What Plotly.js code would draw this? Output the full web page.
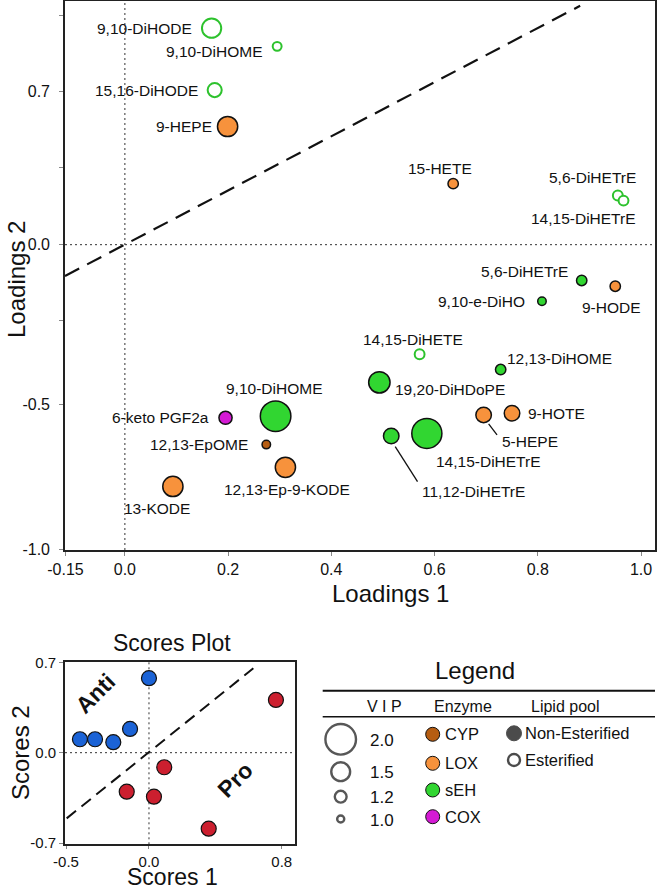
<!DOCTYPE html>
<html><head><meta charset="utf-8">
<script src="https://cdn.plot.ly/plotly-3.0.1.min.js"></script>
<style>html,body{margin:0;padding:0;background:#fff;} #chart{width:659px;height:887px;}</style>
</head><body><div id="chart"></div>
<script>
// ---------------- Loadings plot data ----------------
const lipidNames = ['9,10-DiHODE','9,10-DiHOME','15,16-DiHODE','9-HEPE','15-HETE','5,6-DiHETrE','14,15-DiHETrE',
  '5,6-DiHETrE','9-HODE','9,10-e-DiHO','14,15-DiHETE','12,13-DiHOME','19,20-DiHDoPE','5-HEPE','9-HOTE',
  '14,15-DiHETrE','11,12-DiHETrE','9,10-DiHOME','6-keto PGF2a','12,13-EpOME','12,13-Ep-9-KODE','13-KODE'];
const loadings1 = [0.168, 0.295, 0.174, 0.199, 0.636, 0.955, 0.966,
  0.885, 0.950, 0.808, 0.571, 0.728, 0.493, 0.695, 0.750,
  0.585, 0.516, 0.292, 0.195, 0.274, 0.311, 0.093];
const loadings2 = [0.678, 0.621, 0.484, 0.370, 0.191, 0.154, 0.138,
  -0.112, -0.130, -0.177, -0.343, -0.391, -0.431, -0.533, -0.528,
  -0.591, -0.599, -0.537, -0.542, -0.626, -0.697, -0.757];
const vipScores = [1.50, 1.06, 1.28, 1.52, 1.10, 1.10, 1.10,
  1.10, 1.10, 1.02, 1.10, 1.10, 1.57, 1.32, 1.32,
  1.94, 1.32, 1.96, 1.22, 1.02, 1.52, 1.52];
const enzymeClass = ['sEH','sEH','sEH','LOX','LOX','sEH','sEH',
  'sEH','LOX','sEH','sEH','sEH','sEH','LOX','LOX',
  'sEH','sEH','sEH','COX','CYP','LOX','LOX'];
const lipidPool = ['Esterified','Esterified','Esterified','Non-Esterified','Non-Esterified','Esterified','Esterified',
  'Non-Esterified','Non-Esterified','Non-Esterified','Esterified','Non-Esterified','Non-Esterified','Non-Esterified','Non-Esterified',
  'Non-Esterified','Non-Esterified','Non-Esterified','Non-Esterified','Non-Esterified','Non-Esterified','Non-Esterified'];

// ---------------- Scores plot data ----------------
const antiScores1 = [0.000, -0.114, -0.215, -0.325, -0.416];
const antiScores2 = [0.577, 0.184, 0.081, 0.104, 0.104];
const proScores1 = [0.765, 0.092, -0.134, 0.030, 0.360];
const proScores2 = [0.409, -0.113, -0.302, -0.341, -0.589];

// ---------------- Tick labels ----------------
const loadXTickVals = [-0.115, 0, 0.2, 0.4, 0.6, 0.8, 1.0];
const loadXTickText = ['-0.15', '0.0', '0.2', '0.4', '0.6', '0.8', '1.0'];
const loadYTickVals = [0.717, 0.479, 0.241, 0, -0.236, -0.5, -0.955];
const loadYTickText = ['', '0.7', '', '0.0', '', '-0.5', '-1.0'];
const scoreXTickVals = [-0.5, 0, 0.8];
const scoreXTickText = ['-0.5', '0.0', '0.8'];
const scoreYTickVals = [-0.7, 0, 0.7];
const scoreYTickText = ['-0.7', '0.0', '0.7'];

// ---------------- Legend content ----------------
const vipLegend = [2.0, 1.5, 1.2, 1.0];
const enzymeNames = ['CYP', 'LOX', 'sEH', 'COX'];
const poolNames = ['Non-Esterified', 'Esterified'];

// ---------------- Styles / layout helpers ----------------
const FONT = '"Liberation Sans", Arial, Helvetica, sans-serif';
const TXT = '#111111';
const enzymeColors = {CYP: '#b65d12', LOX: '#f7923c', sEH: '#31d631', COX: '#d41ad4'};
const esterOutline = '#2dc22d';
const antiColor = '#1b63d6';
const proColor = '#cc1f2f';
function vipToDiameter(v) { return 9.5 + (v - 1) * 23.5; }

// label placement: [xanchor, dx (px, right), dy (px, down)]
const labelPlacement = [
  ['right', -18, 0], ['right', -13, 5], ['right', -15, 0], ['right', -14, 0], ['center', -13, -15],
  ['center', -25, -18], ['center', -40, 18],
  ['right', -12, -9], ['center', -4, 21], ['right', -15, 0], ['center', -7, -15], ['left', 4, -11],
  ['left', 14, 7], ['center', 46, 27], ['left', 14, 0],
  ['center', 62, 28], ['center', 82, 56], ['center', -2, -28], ['right', -15, 0], ['right', -16, 0],
  ['center', 2, 22], ['center', -16, 22]
];
// leader lines: [point index, x0, y0, x1, y1] pixel offsets from point (y down)
const leaderLines = [[13, 5, 9, 13.4, 20], [16, 4, 10.7, 26.3, 45.7]];

// ---------------- Traces ----------------
const isEst = lipidPool.map(p => p === 'Esterified');
const lineW = isEst.map(e => e ? 2 : 1.5);
const loadTrace = {
  type: 'scatter', mode: 'markers', xaxis: 'x', yaxis: 'y',
  x: loadings1, y: loadings2, text: lipidNames, hoverinfo: 'text',
  marker: {
    symbol: 'circle',
    size: vipScores.map((v, i) => vipToDiameter(v) - lineW[i]),
    color: enzymeClass.map((e, i) => isEst[i] ? '#ffffff' : enzymeColors[e]),
    line: {color: isEst.map(e => e ? esterOutline : '#111111'), width: lineW},
    opacity: 1
  },
  showlegend: false
};
const antiTrace = {
  type: 'scatter', mode: 'markers', xaxis: 'x2', yaxis: 'y2', x: antiScores1, y: antiScores2, name: 'Anti',
  marker: {size: 15, color: antiColor, line: {color: '#111', width: 1.2}}, showlegend: false
};
const proTrace = {
  type: 'scatter', mode: 'markers', xaxis: 'x2', yaxis: 'y2', x: proScores1, y: proScores2, name: 'Pro',
  marker: {size: 15, color: proColor, line: {color: '#111', width: 1.2}}, showlegend: false
};

// legend (drawn in a hidden pixel-like axis pair x3/y3)
const vipRowY = [739.3, 771.7, 796.7, 819];
const enzRowY = [734.3, 763.3, 790, 816.7];
const poolRowY = [733.3, 760];
const legVip = {
  type: 'scatter', mode: 'markers', xaxis: 'x3', yaxis: 'y3', hoverinfo: 'skip', showlegend: false,
  x: vipLegend.map(() => 340.7), y: vipRowY,
  marker: {size: vipLegend.map(v => vipToDiameter(v) - 2.4), color: '#fff', line: {color: '#111', width: 2.4}}
};
const legEnz = {
  type: 'scatter', mode: 'markers', xaxis: 'x3', yaxis: 'y3', hoverinfo: 'skip', showlegend: false,
  x: enzymeNames.map(() => 432.7), y: enzRowY,
  marker: {size: 14, color: enzymeNames.map(e => enzymeColors[e]), line: {color: '#111', width: 1}}
};
const legPool = {
  type: 'scatter', mode: 'markers', xaxis: 'x3', yaxis: 'y3', hoverinfo: 'skip', showlegend: false,
  x: poolNames.map(() => 514), y: poolRowY,
  marker: {size: [15, 12], color: ['#000', '#fff'], line: {color: '#000', width: [1, 2.4]}}
};

// ---------------- Annotations ----------------
const annotations = [];
lipidNames.forEach((n, i) => {
  const p = labelPlacement[i];
  annotations.push({
    xref: 'x', yref: 'y', x: loadings1[i], y: loadings2[i], text: n, showarrow: false,
    xanchor: p[0], yanchor: 'middle', xshift: p[1], yshift: -p[2],
    font: {family: FONT, size: 15.5, color: TXT}
  });
});
function paperText(t, px, py, size, extra) {
  return Object.assign({xref: 'paper', yref: 'paper', x: px / 659, y: 1 - py / 887, text: t, showarrow: false,
    xanchor: 'center', yanchor: 'middle', font: {family: FONT, size: size, color: TXT}}, extra || {});
}
annotations.push(paperText('Loadings 1', 390, 593, 24));
annotations.push(paperText('Loadings 2', 16, 280, 24, {textangle: -90}));
annotations.push(paperText('Scores Plot', 172, 643, 23));
annotations.push(paperText('Scores 1', 172, 877, 23));
annotations.push(paperText('Scores 2', 20, 753, 24, {textangle: -90}));
annotations.push({xref: 'x2', yref: 'y2', x: -0.32, y: 0.46, text: '<b>Anti</b>', showarrow: false, textangle: -45,
  font: {family: FONT, size: 23, color: TXT}});
annotations.push({xref: 'x2', yref: 'y2', x: 0.518, y: -0.21, text: '<b>Pro</b>', showarrow: false, textangle: -45,
  font: {family: FONT, size: 23, color: TXT}});
// legend texts
function legText(t, x, y, size, anchor) {
  return {xref: 'x3', yref: 'y3', x: x, y: y, text: t, showarrow: false, xanchor: anchor || 'center', yanchor: 'middle',
    font: {family: FONT, size: size, color: TXT}};
}
annotations.push(legText('Legend', 475, 670, 24));
annotations.push(legText('V I P', 384, 706.7, 16));
annotations.push(legText('Enzyme', 463.3, 706.7, 16));
annotations.push(legText('Lipid pool', 565, 706.7, 16));
vipLegend.forEach((v, i) => annotations.push(legText(v.toFixed(1), 381.7, vipRowY[i] + 1, 17)));
enzymeNames.forEach((e, i) => annotations.push(legText(e, 443, enzRowY[i], 16.5, 'left')));
poolNames.forEach((p, i) => annotations.push(legText(p, 523, poolRowY[i], 16.5, 'left')));

// ---------------- Shapes ----------------
const shapes = [
  // main plot reference lines
  {type: 'line', xref: 'x', yref: 'y domain', x0: 0, x1: 0, y0: 0, y1: 1, layer: 'below', line: {color: '#333', width: 1, dash: '2px,3px'}},
  {type: 'line', xref: 'x domain', yref: 'y', x0: 0, x1: 1, y0: 0, y1: 0, layer: 'below', line: {color: '#333', width: 1, dash: '2px,3px'}},
  {type: 'line', xref: 'x', yref: 'y', x0: -0.116, y0: -0.098, x1: 0.882, y1: 0.748, layer: 'below', line: {color: '#111', width: 2.2, dash: '16px,9px'}},
  // scores plot reference lines
  {type: 'line', xref: 'x2', yref: 'y2 domain', x0: 0, x1: 0, y0: 0, y1: 1, layer: 'below', line: {color: '#333', width: 1, dash: '2px,3px'}},
  {type: 'line', xref: 'x2 domain', yref: 'y2', x0: 0, x1: 1, y0: 0, y1: 0, layer: 'below', line: {color: '#333', width: 1, dash: '2px,3px'}},
  {type: 'line', xref: 'x2', yref: 'y2', x0: -0.496, y0: -0.509, x1: 0.629, y1: 0.654, layer: 'below', line: {color: '#111', width: 2, dash: '12px,7px'}},
  // legend rules
  {type: 'line', xref: 'x3', yref: 'y3', x0: 322.7, x1: 655, y0: 690.7, y1: 690.7, line: {color: '#111', width: 2}},
  {type: 'line', xref: 'x3', yref: 'y3', x0: 322.7, x1: 655, y0: 716.7, y1: 716.7, line: {color: '#111', width: 1.5}}
];
leaderLines.forEach(l => {
  const i = l[0];
  shapes.push({type: 'line', xref: 'x', yref: 'y', xsizemode: 'pixel', ysizemode: 'pixel',
    xanchor: loadings1[i], yanchor: loadings2[i], x0: l[1], x1: l[3], y0: -l[2], y1: -l[4],
    line: {color: '#111', width: 1.3}});
});

// ---------------- Layout ----------------
const axisCommon = {showgrid: false, zeroline: false, showline: true, mirror: true, linecolor: '#222', linewidth: 1.8,
  ticks: 'outside', ticklen: 4, tickcolor: '#888', tickwidth: 1, fixedrange: true};
const layout = {
  width: 659, height: 887, autosize: false,
  margin: {l: 0, r: 0, t: 0, b: 0},
  paper_bgcolor: '#ffffff', plot_bgcolor: '#ffffff',
  font: {family: FONT, color: TXT},
  showlegend: false,
  xaxis: Object.assign({}, axisCommon, {domain: [65 / 659, 655 / 659], range: [-0.116, 1.027], anchor: 'y',
    tickmode: 'array', tickvals: loadXTickVals, ticktext: loadXTickText, tickfont: {family: FONT, size: 16, color: TXT}}),
  yaxis: Object.assign({}, axisCommon, {domain: [1 - 550 / 887, 1 - 1 / 887], range: [-0.956, 0.763], anchor: 'x',
    tickmode: 'array', tickvals: loadYTickVals, ticktext: loadYTickText, ticklabelstandoff: 6, tickfont: {family: FONT, size: 16, color: TXT}}),
  xaxis2: Object.assign({}, axisCommon, {domain: [65 / 659, 295 / 659], range: [-0.506, 0.88], anchor: 'y2', ticklen: 3,
    tickmode: 'array', tickvals: scoreXTickVals, ticktext: scoreXTickText, tickfont: {family: FONT, size: 15, color: TXT}}),
  yaxis2: Object.assign({}, axisCommon, {domain: [1 - 844.3 / 887, 1 - 661.7 / 887], range: [-0.71, 0.705], anchor: 'x2',
    tickmode: 'array', tickvals: scoreYTickVals, ticktext: scoreYTickText, tickfont: {family: FONT, size: 15, color: TXT}}),
  xaxis3: {domain: [310 / 659, 1], range: [310, 659], anchor: 'y3', visible: false, fixedrange: true},
  yaxis3: {domain: [0, 1 - 600 / 887], range: [887, 600], anchor: 'x3', visible: false, fixedrange: true},
  annotations: annotations,
  shapes: shapes
};

Plotly.newPlot('chart', [loadTrace, antiTrace, proTrace, legVip, legEnz, legPool], layout,
  {displayModeBar: false, staticPlot: true});
</script>
</body></html>
